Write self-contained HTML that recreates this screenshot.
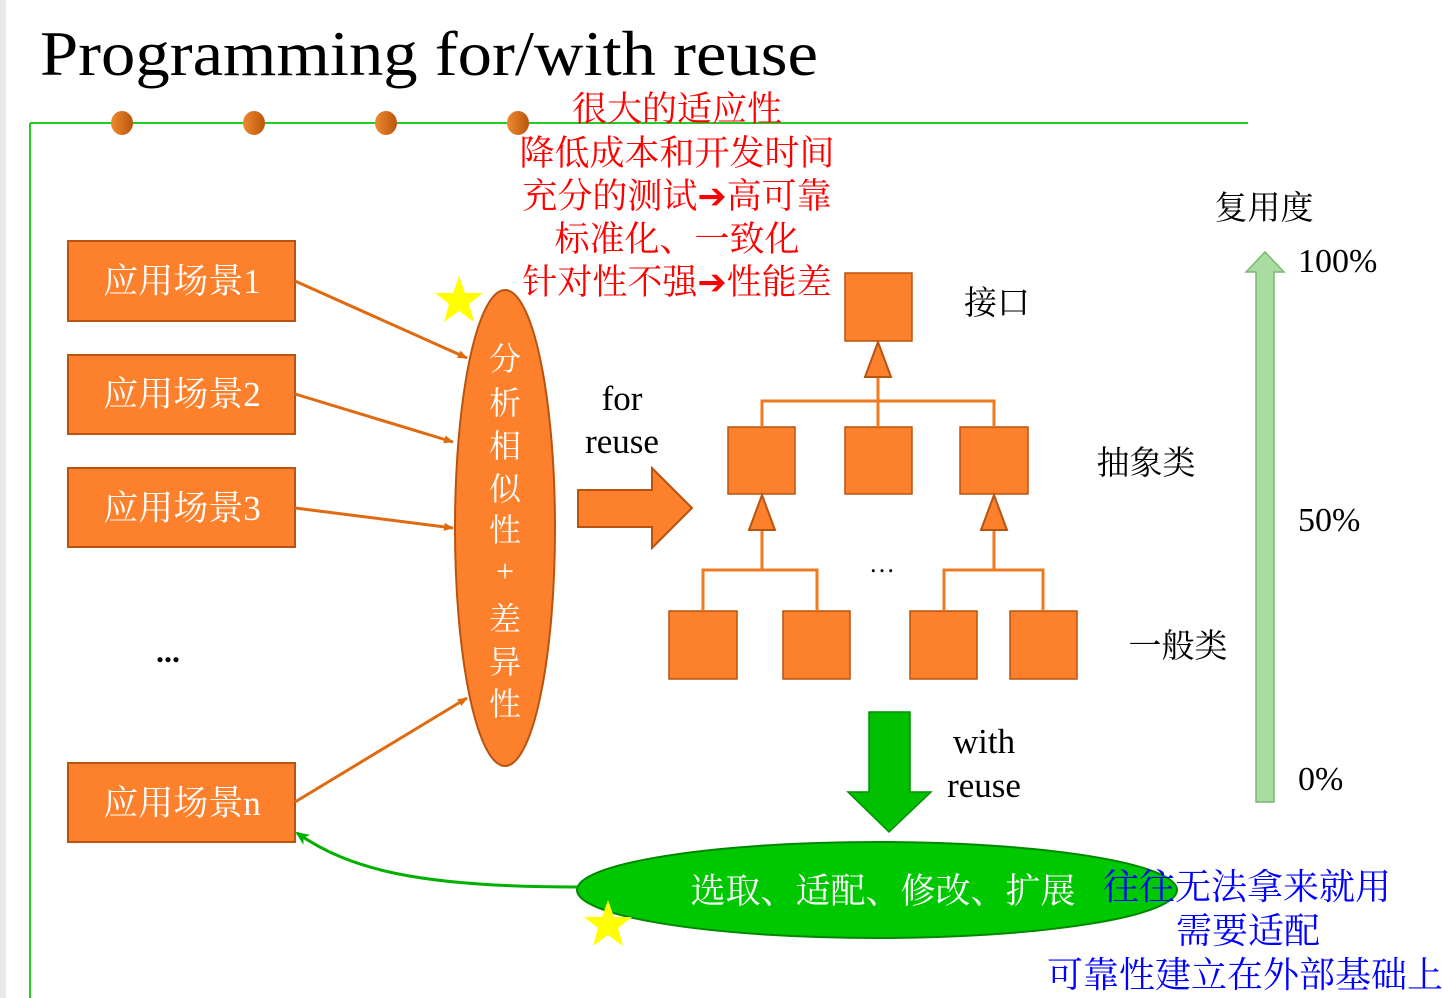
<!DOCTYPE html>
<html><head><meta charset="utf-8"><style>
html,body{margin:0;padding:0;background:#fff;width:1442px;height:998px;overflow:hidden}
svg{display:block}
.s{font-family:"Liberation Serif","Noto Serif CJK SC",serif}
</style></head><body>
<svg width="1442" height="998" viewBox="0 0 1442 998" xmlns="http://www.w3.org/2000/svg">
<defs>
<linearGradient id="dot" x1="0" x2="1"><stop offset="0" stop-color="#f08a30"/><stop offset="1" stop-color="#b8560c"/></linearGradient>
<marker id="ah" markerWidth="10" markerHeight="10" refX="9" refY="5" orient="auto" markerUnits="userSpaceOnUse"><path d="M0,1 L10,5 L0,9 z" fill="#e06a10"/></marker>
<marker id="gh" markerWidth="14" markerHeight="12" refX="12" refY="6" orient="auto" markerUnits="userSpaceOnUse"><path d="M0,0 L14,6 L0,12 L4,6 z" fill="#00b000"/></marker>
</defs>
<rect x="0" y="0" width="6" height="998" fill="#e8e8e8"/>
<text x="40" y="75" class="s" font-size="64" textLength="778" lengthAdjust="spacingAndGlyphs">Programming for/with reuse</text>
<path d="M30,123 H1248 M30,123 V998" stroke="#22cc22" stroke-width="2" fill="none"/>
<g fill="url(#dot)"><ellipse cx="122" cy="123" rx="11" ry="12"/><ellipse cx="254" cy="123" rx="11" ry="12"/><ellipse cx="386" cy="123" rx="11" ry="12"/><ellipse cx="518" cy="123" rx="11" ry="12"/></g>
<g fill="#ff0000" font-size="35" text-anchor="middle" class="s">
<text x="677" y="121">很大的适应性</text>
<text x="677" y="165">降低成本和开发时间</text>
<text x="677" y="208">充分的测试➔高可靠</text>
<text x="677" y="251">标准化、一致化</text>
<text x="677" y="294">针对性不强➔性能差</text>
</g>
<g fill="#fd812c" stroke="#b85410" stroke-width="2">
<rect x="68" y="241" width="227" height="80"/><rect x="68" y="355" width="227" height="79"/><rect x="68" y="468" width="227" height="79"/><rect x="68" y="763" width="227" height="79"/>
</g>
<g fill="#fff" font-size="35" text-anchor="middle" class="s">
<text x="182" y="293">应用场景1</text><text x="182" y="406">应用场景2</text><text x="182" y="520">应用场景3</text><text x="182" y="815">应用场景n</text>
</g>
<text x="168" y="662" font-size="32" font-weight="bold" text-anchor="middle" class="s">...</text>
<g stroke="#e06a10" stroke-width="3" marker-end="url(#ah)">
<line x1="295" y1="281" x2="467" y2="358"/><line x1="295" y1="394" x2="453" y2="442"/><line x1="295" y1="508" x2="453" y2="528"/><line x1="295" y1="802" x2="467" y2="698"/>
</g>
<ellipse cx="505" cy="528" rx="50" ry="238" fill="#fd812c" stroke="#b85410" stroke-width="2"/>
<g fill="#fff" font-size="32" text-anchor="middle" class="s">
<text x="505" y="370">分</text><text x="505" y="414">析</text><text x="505" y="457">相</text><text x="505" y="500">似</text><text x="505" y="541">性</text><text x="505" y="582">+</text><text x="505" y="630">差</text><text x="505" y="673">异</text><text x="505" y="715">性</text>
</g>
<polygon fill="#ffff00" points="459,276 465,293 483,293 469,304 474,322 459,311 444,322 449,304 435,293 453,293"/>
<g font-size="35" text-anchor="middle" class="s"><text x="622" y="410">for</text><text x="622" y="453">reuse</text></g>
<polygon points="578,490 652,490 652,468 692,508 652,548 652,527 578,527" fill="#fd812c" stroke="#b85410" stroke-width="2"/>
<g fill="#fd812c" stroke="#b85410" stroke-width="1.5">
<rect x="845" y="273" width="67" height="68"/>
<rect x="728" y="427" width="67" height="67"/><rect x="845" y="427" width="67" height="67"/><rect x="960" y="427" width="68" height="67"/>
<rect x="669" y="611" width="68" height="68"/><rect x="783" y="611" width="67" height="68"/><rect x="910" y="611" width="67" height="68"/><rect x="1010" y="611" width="67" height="68"/>
</g>
<g stroke="#f07a20" stroke-width="3" fill="none">
<path d="M878,377 V401 M762,427 V401 H994 V427 M878,401 V427"/>
<path d="M762,530 V570 M703,611 V570 H817 V611"/>
<path d="M994,530 V570 M944,611 V570 H1043 V611"/>
</g>
<g fill="#fd812c" stroke="#b85410" stroke-width="2">
<polygon points="878,342 865,377 891,377"/><polygon points="762,495 749,530 775,530"/><polygon points="994,495 981,530 1007,530"/>
</g>
<text x="882" y="572" font-size="26" text-anchor="middle" class="s">…</text>
<g font-size="33" text-anchor="middle" class="s">
<text x="997" y="314">接口</text><text x="1146" y="474">抽象类</text><text x="1178" y="657">一般类</text>
<text x="1264" y="219">复用度</text>
</g>
<g font-size="34" class="s"><text x="1298" y="272">100%</text><text x="1298" y="531">50%</text><text x="1298" y="790">0%</text></g>
<polygon points="1256,802 1256,272 1246,272 1265,252 1284,272 1274,272 1274,802" fill="#a8dca0" stroke="#7cb874" stroke-width="1.5"/>
<polygon points="869,712 910,712 910,792 931,792 889,832 848,792 869,792" fill="#00c000" stroke="#009000" stroke-width="1.5"/>
<g font-size="35" text-anchor="middle" class="s"><text x="984" y="753">with</text><text x="984" y="797">reuse</text></g>
<ellipse cx="877" cy="890" rx="300" ry="48" fill="#00c800" stroke="#008800" stroke-width="2"/>
<path d="M577,887 C420,887 350,870 297,833" stroke="#00b000" stroke-width="3" fill="none" marker-end="url(#gh)"/>
<polygon fill="#ffff00" points="608,900 614,917 632,917 618,928 623,946 608,935 593,946 598,928 584,917 602,917"/>
<text x="883" y="903" fill="#fff" font-size="35" text-anchor="middle" class="s">选取、适配、修改、扩展</text>
<g fill="#0000ff" font-size="36" text-anchor="middle" class="s">
<text x="1247" y="899">往往无法拿来就用</text><text x="1248" y="943">需要适配</text><text x="1245" y="987">可靠性建立在外部基础上</text>
</g>
</svg>
</body></html>
